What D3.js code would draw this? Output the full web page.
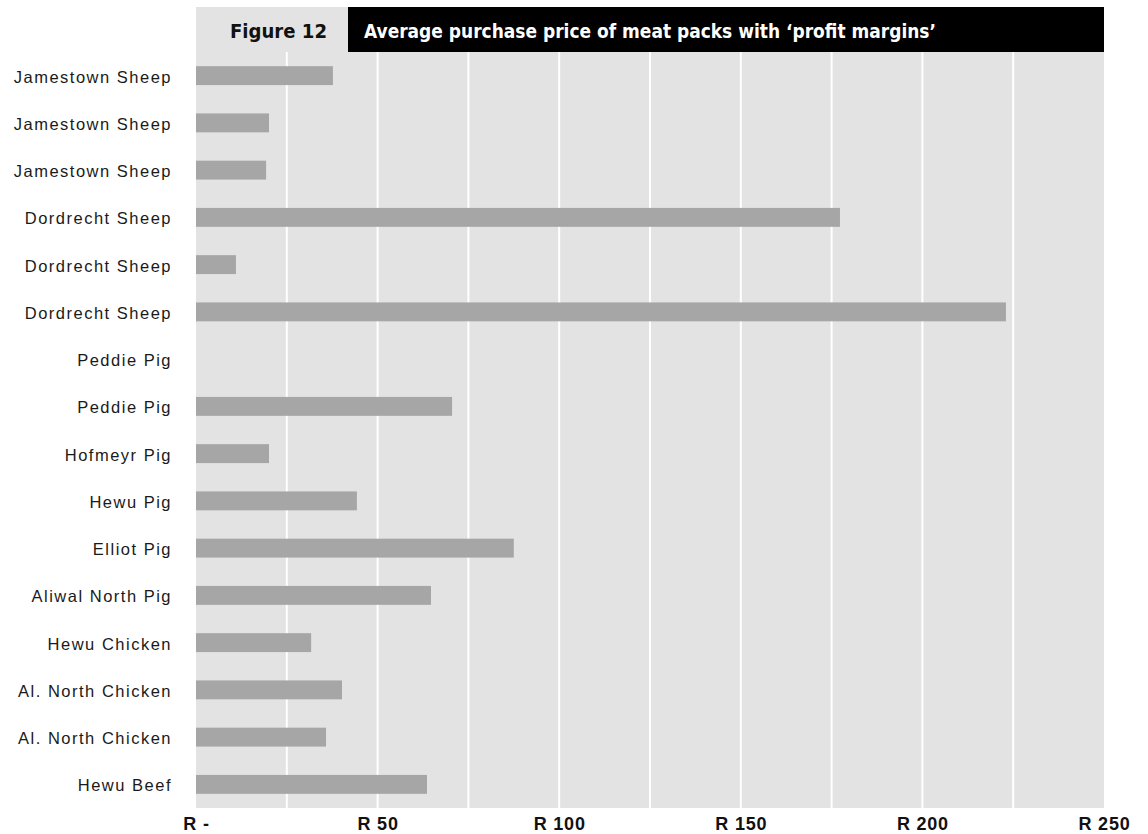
<!DOCTYPE html>
<html>
<head>
<meta charset="utf-8">
<script src="https://cdn.jsdelivr.net/npm/d3@7"></script>
<style>
  html, body { margin: 0; padding: 0; background: #fff; }
  svg { display: block; }
</style>
</head>
<body>
<svg id="chart" width="1148" height="834"></svg>
<script>
// ---- data ----
const categories = [
  "Jamestown Sheep", "Jamestown Sheep", "Jamestown Sheep",
  "Dordrecht Sheep", "Dordrecht Sheep", "Dordrecht Sheep",
  "Peddie Pig", "Peddie Pig", "Hofmeyr Pig", "Hewu Pig", "Elliot Pig",
  "Aliwal North Pig", "Hewu Chicken", "Al. North Chicken", "Al. North Chicken",
  "Hewu Beef"
];
const values = [37.7, 20.1, 19.3, 177.3, 11.0, 223.0, 0, 70.5, 20.1, 44.3, 87.5, 64.7, 31.7, 40.2, 35.8, 63.6];
const tickValues = [0, 25, 50, 75, 100, 125, 150, 175, 200, 225, 250];
const tickLabels = {0: "R -", 50: "R 50", 100: "R 100", 150: "R 150", 200: "R 200", 250: "R 250"};
const figureLabel = "Figure 12";
const titleText = "Average purchase price of meat packs with \u2018profit margins\u2019";

// ---- layout ----
const svg = d3.select("#chart");
const plot = {left: 196, right: 1104, top: 52, bottom: 808};

const x = d3.scaleLinear().domain([0, 250]).range([plot.left, plot.right]);
const y = d3.scaleBand().domain(d3.range(categories.length)).range([plot.top, plot.bottom]).paddingInner(0.6).paddingOuter(0.3);

// header
svg.append("rect").attr("x", plot.left).attr("y", 7).attr("width", 348 - plot.left).attr("height", plot.top - 7).attr("fill", "#e3e3e3");
svg.append("rect").attr("x", 348).attr("y", 7).attr("width", plot.right - 348).attr("height", plot.top - 7).attr("fill", "#000");
const headFont = "'Liberation Sans Narrow', 'Arial Narrow', 'DejaVu Sans Condensed', sans-serif";
svg.append("text").attr("x", 230).attr("y", 37.5).attr("font-family", headFont).attr("font-weight", "bold")
  .attr("font-size", 20).attr("fill", "#111").attr("textLength", 97).attr("lengthAdjust", "spacingAndGlyphs").text(figureLabel);
svg.append("text").attr("x", 364).attr("y", 37.5).attr("font-family", headFont).attr("font-weight", "bold")
  .attr("font-size", 20).attr("fill", "#fff").attr("textLength", 572).attr("lengthAdjust", "spacingAndGlyphs").text(titleText);

// plot background
svg.append("rect").attr("x", plot.left).attr("y", plot.top).attr("width", plot.right - plot.left).attr("height", plot.bottom - plot.top).attr("fill", "#e3e3e3");

// gridlines
svg.append("g").selectAll("line").data(tickValues.filter(d => d > 0 && d < 250)).join("line")
  .attr("x1", d => x(d)).attr("x2", d => x(d)).attr("y1", plot.top).attr("y2", plot.bottom)
  .attr("stroke", "#fff").attr("stroke-width", 2);

// bars
svg.append("g").selectAll("rect").data(values).join("rect")
  .attr("x", x(0)).attr("y", (d, i) => y(i)).attr("width", d => x(d) - x(0)).attr("height", y.bandwidth())
  .attr("fill", "#a6a6a6");

// y axis (category labels)
const yAxis = d3.axisLeft(y).tickSize(0).tickPadding(0).tickFormat(i => categories[i]);
const gy = svg.append("g").attr("transform", `translate(172,0)`).call(yAxis);
gy.select(".domain").remove();
gy.selectAll("text").attr("font-family", "'Liberation Sans', Arial, sans-serif").attr("font-size", 16.5)
  .attr("letter-spacing", "1.5px").attr("fill", "#1a1a1a").attr("dy", "0.3em").attr("transform", "translate(0,2)");

// x axis labels
const xAxis = d3.axisBottom(x).tickValues([0, 50, 100, 150, 200, 250]).tickSize(0).tickPadding(0).tickFormat(d => tickLabels[d]);
const gx = svg.append("g").attr("transform", `translate(0,830)`).call(xAxis);
gx.select(".domain").remove();
gx.selectAll("text").attr("font-family", "'Liberation Sans', Arial, sans-serif").attr("font-weight", "bold").attr("font-size", 18)
  .attr("letter-spacing", "0.8px").attr("fill", "#111").attr("dy", 0);
</script>
</body>
</html>
